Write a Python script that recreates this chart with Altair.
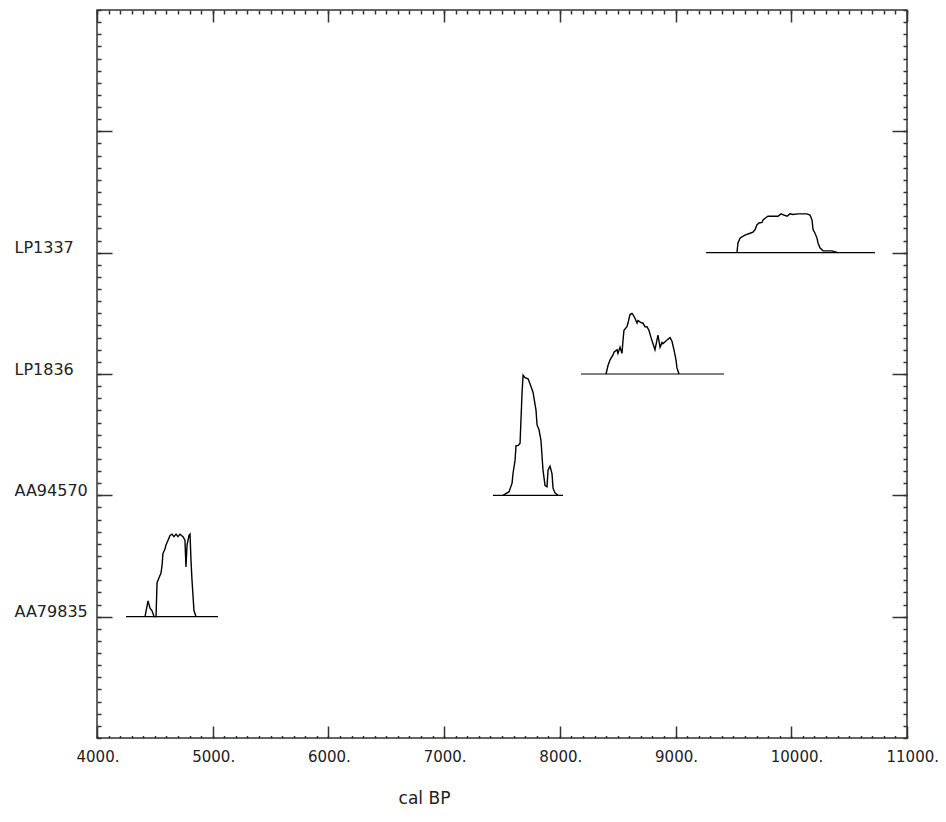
import altair as alt
import pandas as pd

# ---- data ----
samples = ["AA79835", "AA94570", "LP1836", "LP1337"]
rows = [1, 2, 3, 4]
base_start = [4251, 7422, 8183, 9263]
base_end = [5046, 8027, 9419, 10723]

aa79835_year = [4415, 4441, 4458, 4475, 4493, 4510, 4519, 4536, 4544, 4553, 4562, 4570, 4588, 4596,
                4614, 4631, 4648, 4665, 4683, 4700, 4717, 4743, 4760, 4769, 4778, 4795, 4804, 4812,
                4821, 4838, 4856]
aa79835_dens = [0, 0.13, 0.07, 0.05, 0, 0, 0.28, 0.32, 0.34, 0.36, 0.42, 0.52, 0.56, 0.59,
                0.63, 0.67, 0.68, 0.66, 0.68, 0.66, 0.68, 0.66, 0.63, 0.41, 0.59, 0.67, 0.68, 0.47,
                0.30, 0.05, 0]

aa94570_year = [7509, 7561, 7587, 7595, 7613, 7621, 7639, 7656, 7673, 7682, 7699, 7725, 7742, 7768,
                7777, 7794, 7803, 7820, 7837, 7854, 7872, 7889, 7898, 7915, 7932, 7941, 7958, 7984]
aa94570_dens = [0, 0.03, 0.10, 0.18, 0.29, 0.41, 0.41, 0.43, 0.84, 0.99, 0.97, 0.96, 0.92, 0.85,
                0.80, 0.70, 0.58, 0.54, 0.45, 0.21, 0.08, 0.07, 0.21, 0.24, 0.18, 0.06, 0.02, 0]

lp1836_year = [8399, 8416, 8433, 8459, 8468, 8494, 8502, 8520, 8537, 8546, 8554, 8580, 8589, 8606,
               8623, 8632, 8649, 8667, 8675, 8692, 8710, 8718, 8736, 8753, 8770, 8788, 8805, 8822,
               8839, 8848, 8866, 8883, 8891, 8926, 8952, 8969, 8986, 9004, 9012, 9030]
lp1836_dens = [0, 0.07, 0.115, 0.157, 0.18, 0.20, 0.17, 0.22, 0.17, 0.28, 0.36, 0.39, 0.42, 0.49,
               0.50, 0.49, 0.46, 0.42, 0.44, 0.43, 0.42, 0.42, 0.39, 0.39, 0.36, 0.30, 0.25, 0.20,
               0.28, 0.32, 0.22, 0.26, 0.25, 0.28, 0.30, 0.27, 0.20, 0.115, 0.05, 0]

lp1337_year = [9531, 9539, 9557, 9574, 9600, 9643, 9669, 9687, 9704, 9721, 9747, 9756, 9782, 9799,
               9859, 9885, 9911, 9937, 9963, 9989, 10015, 10058, 10136, 10162, 10179, 10188, 10205,
               10222, 10231, 10248, 10274, 10352, 10404]
lp1337_dens = [0, 0.08, 0.12, 0.13, 0.145, 0.16, 0.17, 0.19, 0.23, 0.245, 0.25, 0.27, 0.29, 0.30,
               0.30, 0.30, 0.32, 0.31, 0.30, 0.32, 0.315, 0.32, 0.32, 0.31, 0.27, 0.19, 0.16,
               0.12, 0.08, 0.04, 0.015, 0.015, 0]

x_major = [4000, 5000, 6000, 7000, 8000, 9000, 10000, 11000]
x_minor = list(range(4000, 11001, 100))
y_major = [1, 2, 3, 4, 5]
y_minor = [round(i * 0.1, 1) for i in range(61)]

# ---- tables ----
curve_parts = []
for name, row, yrs, dens in zip(samples, rows,
                                [aa79835_year, aa94570_year, lp1836_year, lp1337_year],
                                [aa79835_dens, aa94570_dens, lp1836_dens, lp1337_dens]):
    for i, (yv, dv) in enumerate(zip(yrs, dens)):
        curve_parts.append({"sample": name, "idx": i, "year": yv, "y": row + dv})
curves = pd.DataFrame(curve_parts)
bases = pd.DataFrame({"sample": samples, "row": rows, "start": base_start, "end": base_end})

xs = alt.Scale(domain=[4000, 11000], nice=False, zero=False)
ys = alt.Scale(domain=[0, 6], nice=False, zero=False)

label_expr = " : ".join(f"datum.value == {r} ? '{s}'" for r, s in zip(rows, samples)) + " : ''"

common = dict(domain=False, grid=False, tickColor="#333333", tickWidth=1.5)

ax_bottom = alt.Axis(orient="bottom", values=x_major, tickSize=12, offset=-12, format="d",
                     labelExpr="datum.label + '.'", labelAlign="left", labelOffset=-21,
                     labelBaseline="top", labelPadding=11, labelFlush=False, labelOverlap=False,
                     labelFont="DejaVu Sans", labelFontSize=15, labelColor="#222222",
                     title="cal BP", titleFont="DejaVu Sans", titleFontSize=17,
                     titleFontWeight="normal", titleColor="#222222", titleX=327, titleY=77,
                     titleAlign="center", titleBaseline="alphabetic", **common)
ax_left = alt.Axis(orient="left", values=y_major, tickSize=15, offset=-15, labelExpr=label_expr,
                   labelAlign="left", labelBaseline="alphabetic", labelPadding=83,
                   labelFlush=False, labelOverlap=False, labelFont="DejaVu Sans",
                   labelFontSize=16, labelColor="#222222", title=None, **common)
ax_bottom_minor = alt.Axis(orient="bottom", values=x_minor, tickSize=2.5, offset=-2.5,
                           labels=False, title=None, **common)
ax_left_minor = alt.Axis(orient="left", values=y_minor, tickSize=4, offset=-4,
                         labels=False, title=None, **common)
ax_top = alt.Axis(orient="top", values=x_major, tickSize=12, offset=-12,
                  labels=False, title=None, **common)
ax_right = alt.Axis(orient="right", values=y_major, tickSize=15, offset=-15,
                    labels=False, title=None, **common)
ax_top_minor = alt.Axis(orient="top", values=x_minor, tickSize=4, offset=-4,
                        labels=False, title=None, **common)
ax_right_minor = alt.Axis(orient="right", values=y_minor, tickSize=4, offset=-4,
                          labels=False, title=None, **common)

lines = alt.Chart(curves).mark_line(color="black", strokeWidth=1.4).encode(
    x=alt.X("year:Q", scale=xs, axis=ax_bottom),
    y=alt.Y("y:Q", scale=ys, axis=ax_left),
    detail="sample:N",
    order="idx:Q",
)

baselines = alt.Chart(bases).mark_rule(color="black", strokeWidth=1.2).encode(
    x=alt.X("start:Q", scale=xs, axis=ax_bottom_minor),
    x2="end:Q",
    y=alt.Y("row:Q", scale=ys, axis=ax_left_minor),
)

ghost1 = alt.Chart(bases).mark_rule(opacity=0).encode(
    x=alt.X("start:Q", scale=xs, axis=ax_top),
    x2="end:Q",
    y=alt.Y("row:Q", scale=ys, axis=ax_right),
)

ghost2 = alt.Chart(bases).mark_rule(opacity=0).encode(
    x=alt.X("start:Q", scale=xs, axis=ax_top_minor),
    x2="end:Q",
    y=alt.Y("row:Q", scale=ys, axis=ax_right_minor),
)

chart = alt.layer(lines, baselines, ghost1, ghost2).resolve_axis(
    x="independent", y="independent"
).properties(
    width=810, height=728,
    autosize=alt.AutoSizeParams(type="none"),
    padding={"left": 89, "top": 2, "right": 31, "bottom": 70},
    background="white",
).configure_view(stroke="#333333", strokeWidth=1.5)

chart.save("out.html", embed_options={"renderer": "svg", "actions": False})
